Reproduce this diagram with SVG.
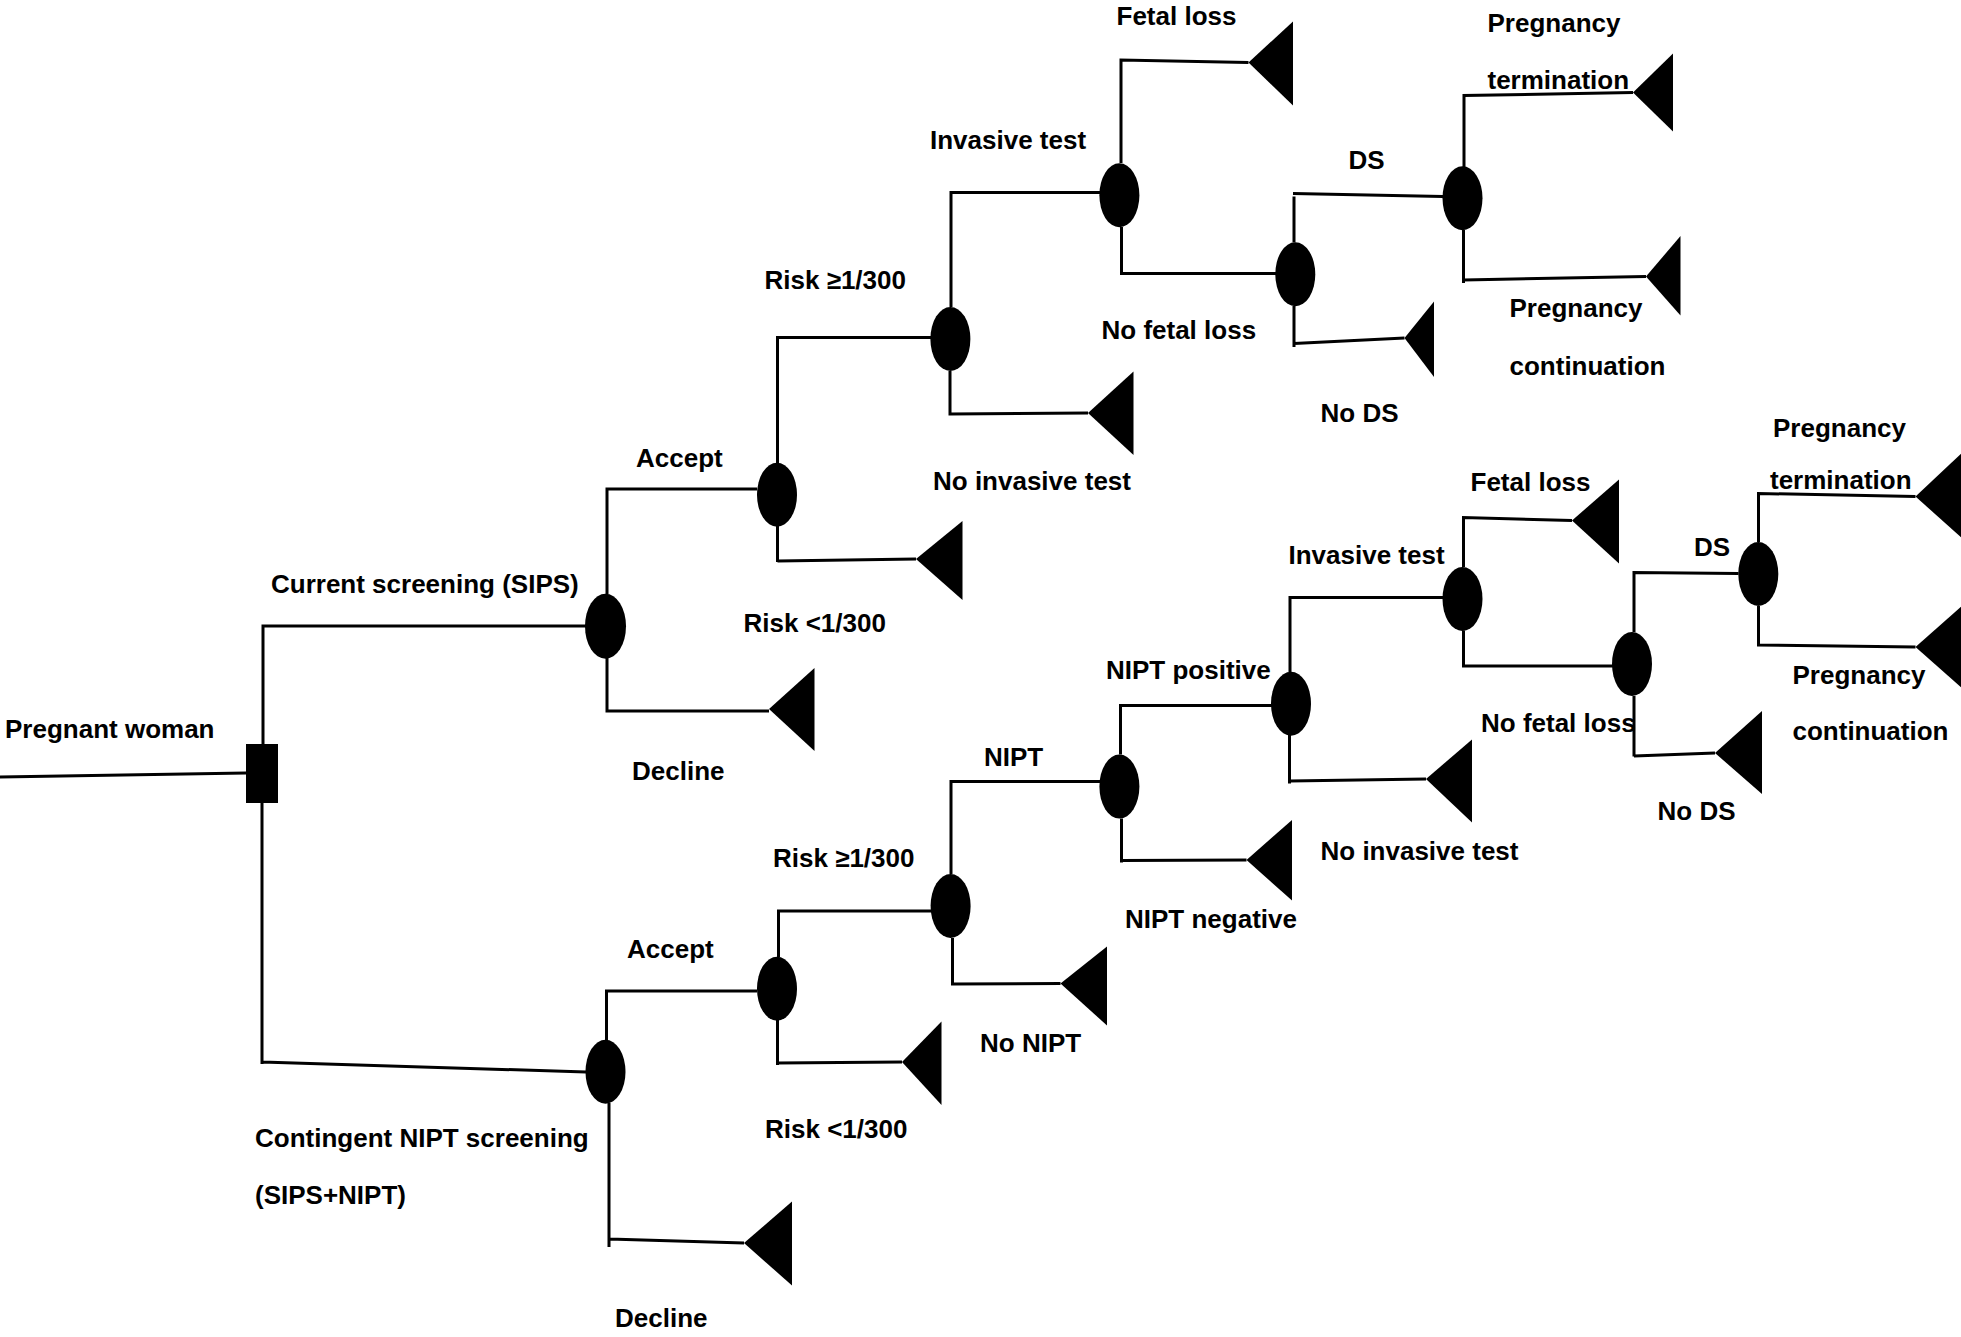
<svg xmlns="http://www.w3.org/2000/svg" width="1961" height="1337" viewBox="0 0 1961 1337">
<defs>
<style>
.c{fill:none;stroke:#000;stroke-width:3;stroke-linejoin:miter}
.ch{fill:#000}
.dec{fill:#000}
.term{fill:#000}
text{font-family:"Liberation Sans",Arial,sans-serif;font-weight:bold;font-size:26px;fill:#000}
</style>
</defs>
<rect x="0" y="0" width="1961" height="1337" fill="#fff"/>
<g id="connectors">
<path class="c" d="M0,777 L246,773"/>
<path class="c" d="M263,744 V626 H586"/>
<path class="c" d="M262,803 V1064 M262,1062 L586,1072"/>
<path class="c" d="M607,594 V489 H757"/>
<path class="c" d="M607,658 V711 H769"/>
<path class="c" d="M777.5,463 V337.5 H931"/>
<path class="c" d="M777.5,526 V562 M777.5,561 L916,559"/>
<path class="c" d="M951,307 V192.5 H1100"/>
<path class="c" d="M950,371 V415.5 M950,414 L1088,413"/>
<path class="c" d="M1121,163 V60 L1248.5,62.5"/>
<path class="c" d="M1121.5,227 V273.5 H1276"/>
<path class="c" d="M1294,242.5 V196.5 M1293,193.5 L1443,196.5"/>
<path class="c" d="M1294,306 V347 M1294,343.5 L1404.5,338"/>
<path class="c" d="M1464,167 V95.5 L1633,92.5"/>
<path class="c" d="M1463.5,230 V283 M1463.5,280 L1646,276.5"/>
<path class="c" d="M606.5,1040 V991 H757"/>
<path class="c" d="M609,1103 V1247 M609,1239 L744,1243"/>
<path class="c" d="M778.5,957 V911 H931"/>
<path class="c" d="M777.5,1020 V1065 M777.5,1063 L902,1062"/>
<path class="c" d="M951,874 V781.5 H1100"/>
<path class="c" d="M952.5,938 V985.5 M952.5,984 L1060.5,983.5"/>
<path class="c" d="M1120.5,754.5 V705.5 H1272"/>
<path class="c" d="M1121.5,818.5 V862.5 M1121.5,860.5 L1246.5,860"/>
<path class="c" d="M1290,672 V597.5 H1443"/>
<path class="c" d="M1289.5,735 V783.5 M1289.5,781 L1426,779"/>
<path class="c" d="M1463.5,567 V517.5 L1572,520.5"/>
<path class="c" d="M1463.5,630.5 V666 H1613"/>
<path class="c" d="M1634,632 V572.5 L1738.5,573.5"/>
<path class="c" d="M1634,696 V756.5 M1634,756 L1715,753"/>
<path class="c" d="M1758.5,542 V493.5 L1915.5,496.5"/>
<path class="c" d="M1758.5,606 V645 L1915.5,647"/>
</g>
<g id="decision-root"><rect class="dec" x="246" y="744" width="32" height="59"/></g>
<g id="chance-A"><ellipse class="ch" cx="605.5" cy="626.3" rx="20.5" ry="32.5"/></g>
<g id="chance-B"><ellipse class="ch" cx="777" cy="494.7" rx="20" ry="32"/></g>
<g id="chance-C"><ellipse class="ch" cx="950.4" cy="339" rx="20" ry="32"/></g>
<g id="chance-D"><ellipse class="ch" cx="1119.4" cy="195.3" rx="20" ry="32"/></g>
<g id="chance-E"><ellipse class="ch" cx="1295.3" cy="274.3" rx="20" ry="32"/></g>
<g id="chance-F"><ellipse class="ch" cx="1462.5" cy="198.3" rx="20" ry="32"/></g>
<g id="chance-G"><ellipse class="ch" cx="605.5" cy="1071.7" rx="20" ry="32"/></g>
<g id="chance-H"><ellipse class="ch" cx="777" cy="988.7" rx="20" ry="32"/></g>
<g id="chance-I"><ellipse class="ch" cx="950.6" cy="906" rx="20" ry="32"/></g>
<g id="chance-J"><ellipse class="ch" cx="1119.4" cy="786.6" rx="20" ry="32"/></g>
<g id="chance-K"><ellipse class="ch" cx="1291" cy="703.7" rx="20" ry="32"/></g>
<g id="chance-L"><ellipse class="ch" cx="1462.5" cy="599" rx="20" ry="32"/></g>
<g id="chance-M"><ellipse class="ch" cx="1632" cy="664" rx="20" ry="32"/></g>
<g id="chance-N"><ellipse class="ch" cx="1758.3" cy="574" rx="20" ry="32"/></g>
<g id="term-1"><polygon class="term" points="769,709 814.5,668 814.5,751"/></g>
<g id="term-2"><polygon class="term" points="916,559 962.5,521 962.5,600"/></g>
<g id="term-3"><polygon class="term" points="1088,413 1133.5,371.5 1133.5,455"/></g>
<g id="term-4"><polygon class="term" points="1248.5,62.5 1293,21.5 1293,105.5"/></g>
<g id="term-5"><polygon class="term" points="1404.5,338 1434,301.5 1434,377"/></g>
<g id="term-6"><polygon class="term" points="1633,92.5 1673,53.5 1673,131.5"/></g>
<g id="term-7"><polygon class="term" points="1646,276.5 1680.5,236 1680.5,315.5"/></g>
<g id="term-8"><polygon class="term" points="744,1243 792,1201.5 792,1285.5"/></g>
<g id="term-9"><polygon class="term" points="902,1062 941.5,1021.5 941.5,1105"/></g>
<g id="term-10"><polygon class="term" points="1060.5,983.5 1107,946.5 1107,1025.5"/></g>
<g id="term-11"><polygon class="term" points="1246.5,860 1292,820 1292,900.5"/></g>
<g id="term-12"><polygon class="term" points="1426,779 1472,739.5 1472,822.5"/></g>
<g id="term-13"><polygon class="term" points="1572,520.5 1619,479.5 1619,563.5"/></g>
<g id="term-14"><polygon class="term" points="1715,753 1762,711 1762,794"/></g>
<g id="term-15"><polygon class="term" points="1915.5,496.5 1964,451 1964,540"/></g>
<g id="term-16"><polygon class="term" points="1915.5,647 1964,604 1964,690"/></g>
<g id="labels">
<text x="5" y="738">Pregnant woman</text>
<text x="271" y="593">Current screening (SIPS)</text>
<text x="255" y="1147">Contingent NIPT screening</text>
<text x="255" y="1204">(SIPS+NIPT)</text>
<text x="632" y="780">Decline</text>
<text x="615" y="1327">Decline</text>
<text x="636" y="466.5">Accept</text>
<text x="627" y="958">Accept</text>
<text x="764.5" y="289">Risk ≥1/300</text>
<text x="743.5" y="632">Risk &lt;1/300</text>
<text x="773" y="867">Risk ≥1/300</text>
<text x="765" y="1138">Risk &lt;1/300</text>
<text x="930" y="148.5">Invasive test</text>
<text x="933" y="490">No invasive test</text>
<text x="1116.5" y="25">Fetal loss</text>
<text x="1101.5" y="339">No fetal loss</text>
<text x="1348.5" y="169">DS</text>
<text x="1320.5" y="422">No DS</text>
<text x="1487.5" y="31.5">Pregnancy</text>
<text x="1487.5" y="89">termination</text>
<text x="1509.5" y="316.5">Pregnancy</text>
<text x="1509.5" y="375">continuation</text>
<text x="984" y="766">NIPT</text>
<text x="980" y="1052">No NIPT</text>
<text x="1106" y="678.5">NIPT positive</text>
<text x="1125" y="927.5">NIPT negative</text>
<text x="1288.5" y="564">Invasive test</text>
<text x="1320.5" y="860">No invasive test</text>
<text x="1470.5" y="490.5">Fetal loss</text>
<text x="1481" y="731.5">No fetal loss</text>
<text x="1694" y="556">DS</text>
<text x="1657.5" y="819.5">No DS</text>
<text x="1773" y="436.5">Pregnancy</text>
<text x="1770" y="489">termination</text>
<text x="1792.5" y="683.5">Pregnancy</text>
<text x="1792.5" y="740">continuation</text>
</g>
</svg>
